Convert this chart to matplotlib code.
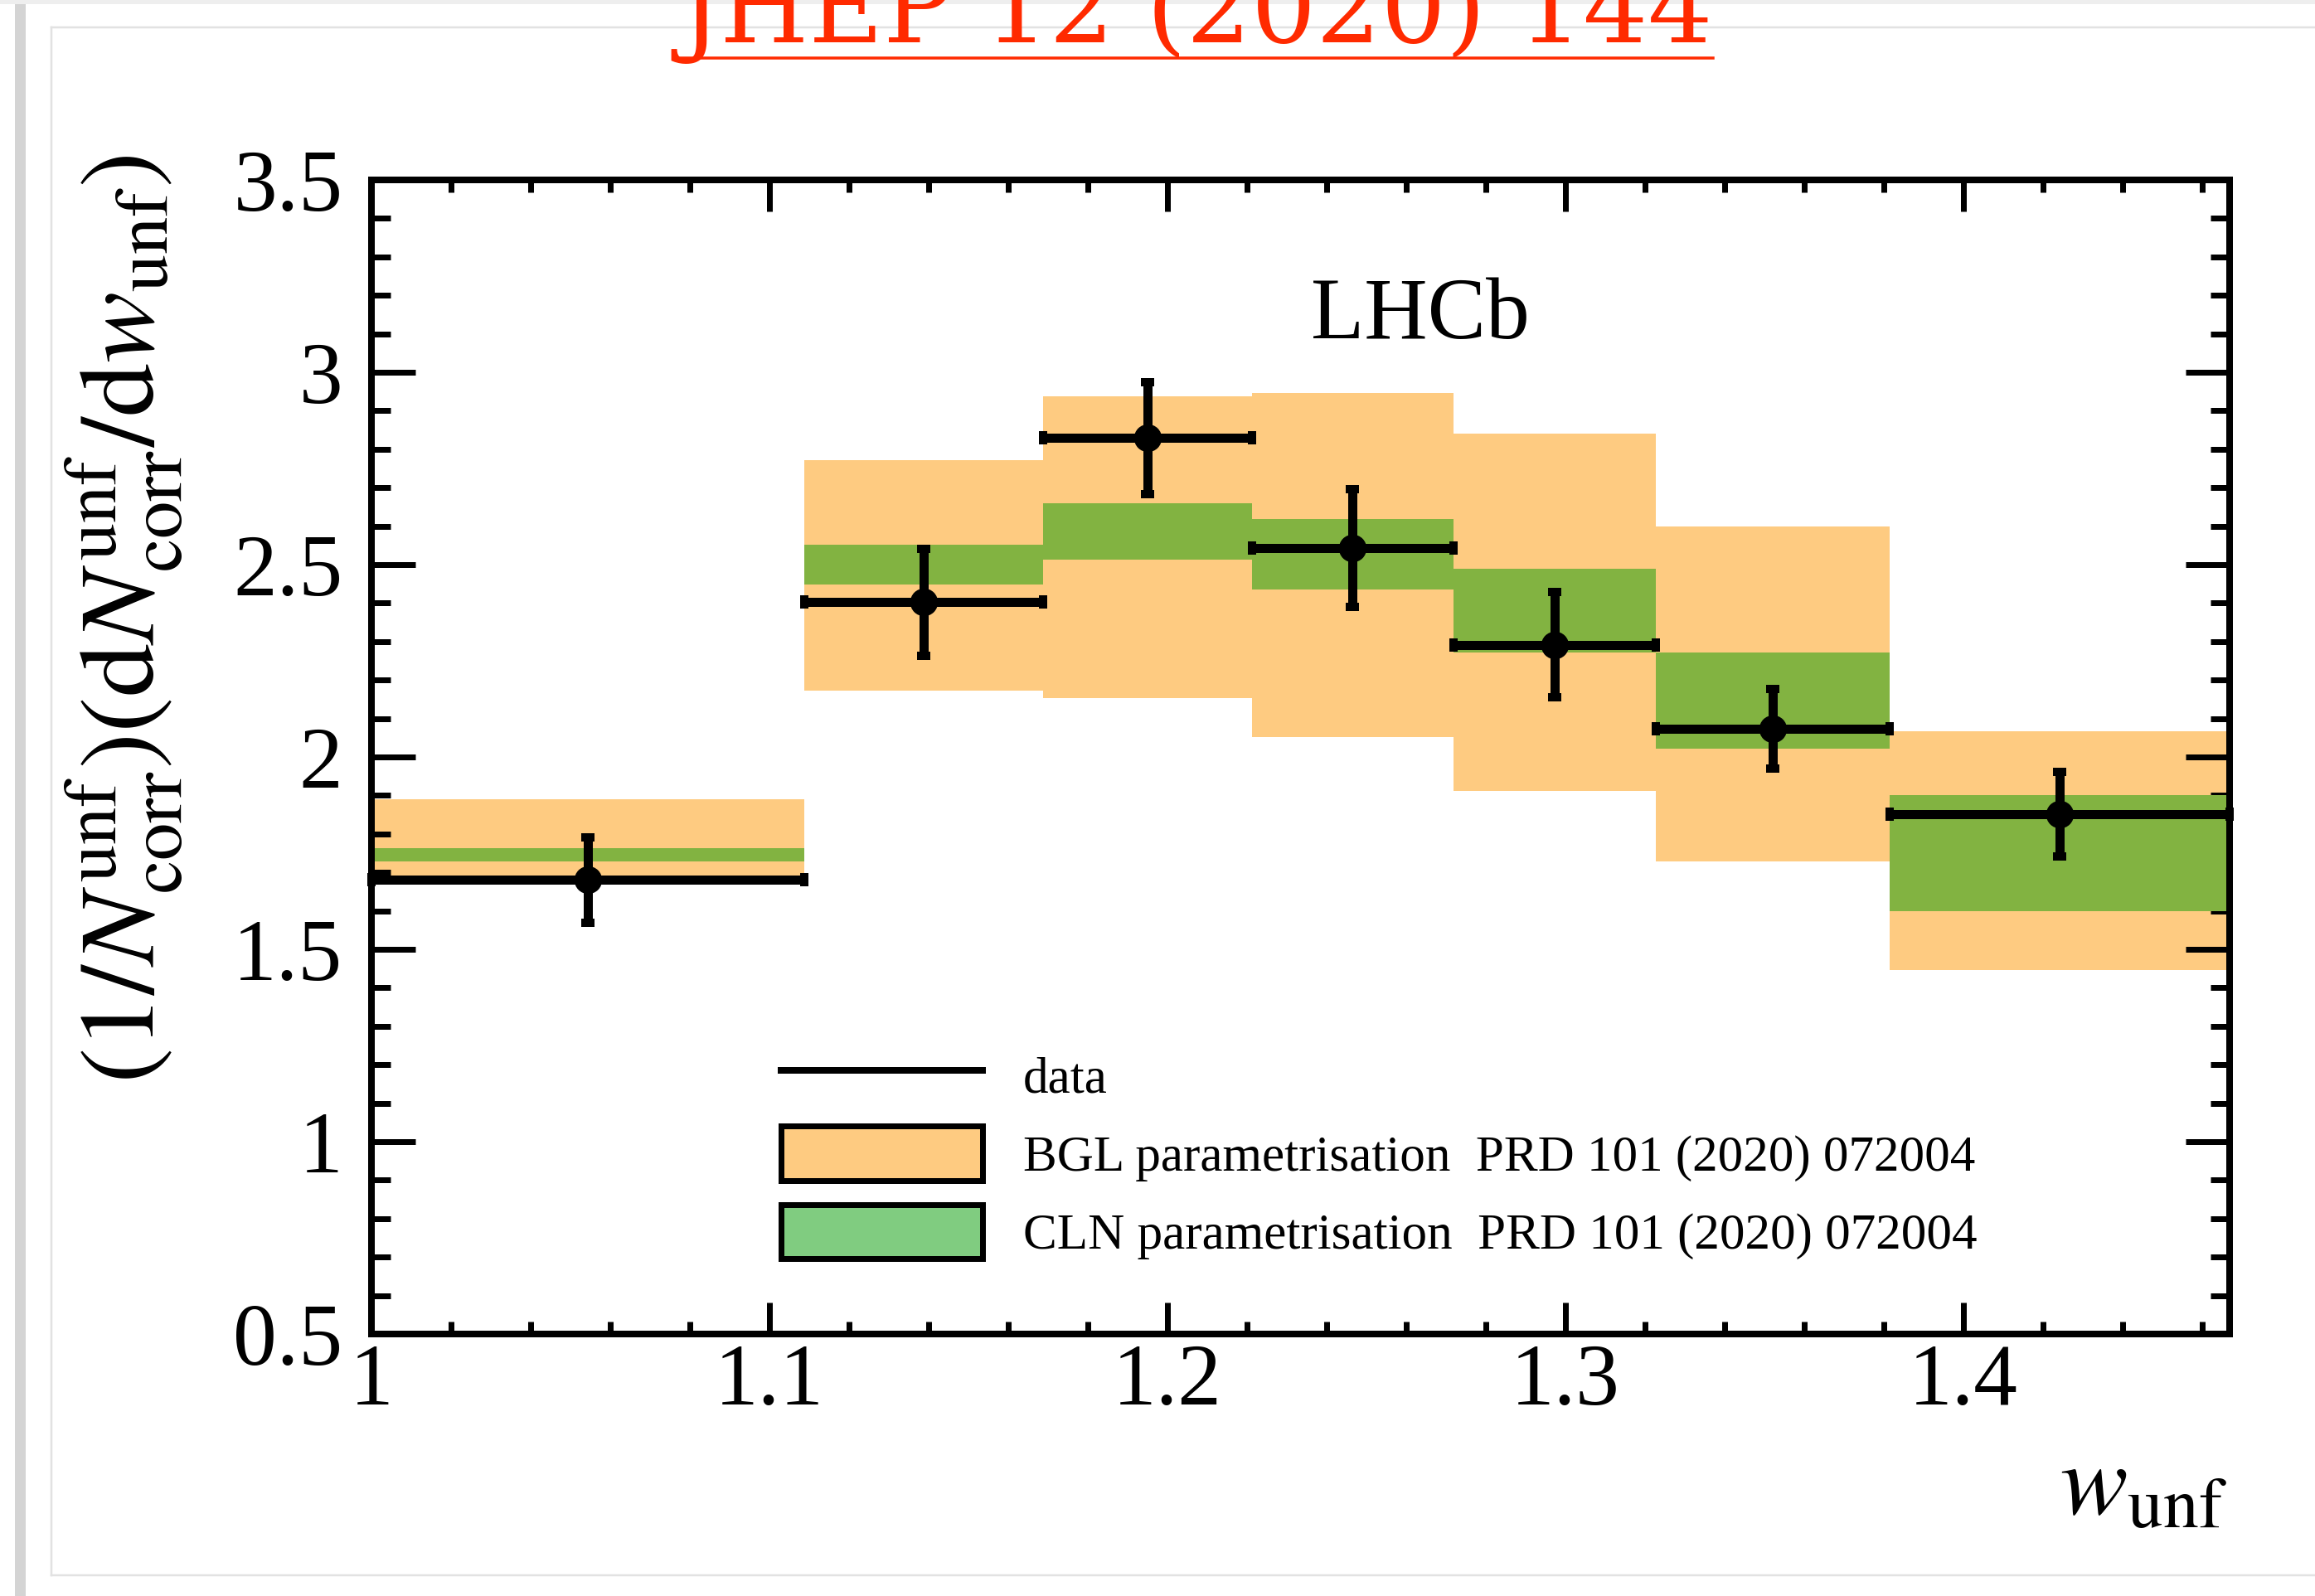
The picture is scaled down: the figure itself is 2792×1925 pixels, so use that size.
import matplotlib
matplotlib.use("Agg")
import matplotlib.pyplot as plt
from matplotlib.lines import Line2D
from matplotlib.patches import Patch, Rectangle
from matplotlib.ticker import MultipleLocator
import numpy as np

# bin edges in w_unf
edges = [1.0, 1.10875, 1.16875, 1.22125, 1.2718, 1.32271, 1.38146, 1.4669]

# unfolded data
data_y = [1.680, 2.402, 2.829, 2.544, 2.292, 2.073, 1.851]
data_err = [0.111, 0.140, 0.145, 0.153, 0.136, 0.104, 0.110]

# BGL band
bgl_lo = [1.692, 2.173, 2.152, 2.052, 1.912, 1.729, 1.447]
bgl_hi = [1.891, 2.772, 2.938, 2.947, 2.841, 2.599, 2.067]

# CLN band
cln_lo = [1.728, 2.448, 2.513, 2.436, 2.272, 2.022, 1.600]
cln_hi = [1.764, 2.552, 2.660, 2.619, 2.489, 2.272, 1.901]

W, H = 2792, 1925
DPI = 100
PX = 72.0 / DPI   # points per pixel

plt.rcParams['font.family'] = ['Liberation Serif', 'DejaVu Serif']
plt.rcParams['mathtext.fontset'] = 'stix'

fig = plt.figure(figsize=(W / DPI, H / DPI), dpi=DPI)
fig.patch.set_facecolor('white')


def fx(px):
    return px / W


def fy(py):
    return 1 - py / H


# page frame around the plot
fig.add_artist(Rectangle((fx(18), 0), fx(13), 1, transform=fig.transFigure,
                         facecolor='#d4d4d4', edgecolor='none'))
fig.add_artist(Rectangle((0, fy(5)), 1, fy(0) - fy(5), transform=fig.transFigure,
                         facecolor='#eeeeee', edgecolor='none'))
frame_kw = dict(transform=fig.transFigure, color='#e2e2e2', lw=2.5 * PX)
fig.add_artist(Line2D([fx(62), 1], [fy(33), fy(33)], **frame_kw))
fig.add_artist(Line2D([fx(62), fx(62)], [fy(33), fy(1900)], **frame_kw))
fig.add_artist(Line2D([fx(62), 1], [fy(1900), fy(1900)], **frame_kw))

ax = fig.add_axes([fx(448), fy(1609), fx(2689) - fx(448), fy(217) - fy(1609)])

edges = np.array(edges)
left = edges[:-1]
width = np.diff(edges)
centres = left + width / 2

orange = '#fecb81'
green = '#82b341'

ax.bar(left, np.array(bgl_hi) - np.array(bgl_lo), bottom=bgl_lo, width=width,
       align='edge', color=orange, edgecolor='none', zorder=1)
ax.bar(left, np.array(cln_hi) - np.array(cln_lo), bottom=cln_lo, width=width,
       align='edge', color=green, edgecolor='none', zorder=2)

eb = ax.errorbar(centres, data_y, xerr=width / 2, yerr=data_err, fmt='o',
                 color='black', ms=32 * PX, elinewidth=11 * PX,
                 capsize=8 * PX, capthick=10 * PX, zorder=5)
for art in eb.lines[1] + eb.lines[2]:
    art.set_clip_on(False)
eb.lines[0].set_clip_on(False)

ax.set_xlim(1.0, edges[-1])
ax.set_ylim(0.5, 3.5)

ax.xaxis.set_major_locator(MultipleLocator(0.1))
ax.xaxis.set_minor_locator(MultipleLocator(0.02))
ax.yaxis.set_major_locator(MultipleLocator(0.5))
ax.yaxis.set_minor_locator(MultipleLocator(0.1))
ax.set_xticks([1.0, 1.1, 1.2, 1.3, 1.4])
ax.set_xticklabels(['1', '1.1', '1.2', '1.3', '1.4'])
ax.set_yticks([0.5, 1.0, 1.5, 2.0, 2.5, 3.0, 3.5])
ax.set_yticklabels(['0.5', '1', '1.5', '2', '2.5', '3', '3.5'])

for s in ax.spines.values():
    s.set_linewidth(8 * PX)
    s.set_zorder(10)

ax.tick_params(axis='both', which='both', direction='in', top=True, right=True,
               width=7 * PX, labelsize=76, color='black')
ax.tick_params(axis='y', which='major', length=53 * PX, pad=25)
ax.tick_params(axis='y', which='minor', length=23 * PX)
ax.tick_params(axis='x', which='major', length=38 * PX, pad=8)
ax.tick_params(axis='x', which='minor', length=15 * PX)

# legend
handles = [
    Line2D([], [], color='black', lw=8 * PX),
    Patch(facecolor=orange, edgecolor='black', lw=7 * PX),
    Patch(facecolor='#80cc80', edgecolor='black', lw=7 * PX),
]
labels = ['data',
          'BGL parametrisation  PRD 101 (2020) 072004',
          'CLN parametrisation  PRD 101 (2020) 072004']
ax.legend(handles, labels, loc='upper left',
          bbox_to_anchor=((942 - 448) / 2241, (1609 - 1264) / 1392),
          frameon=False, fontsize=44, borderpad=0, borderaxespad=0,
          handlelength=3.97, handleheight=1.27, handletextpad=0.8,
          labelspacing=0.46)

ax.text((1581 - 448) / 2241, (1609 - 408) / 1392, 'LHCb', transform=ax.transAxes,
        fontsize=76, ha='left', va='baseline')

# axis titles
fig.text(fx(2686), fy(1827), r'$w_{\mathrm{unf}}$', fontsize=88,
         ha='right', va='baseline')
fig.text(fx(150), fy(187),
         r'$(1/N^{\mathrm{unf}}_{\mathrm{corr}})(\mathrm{d}N^{\mathrm{unf}}_{\mathrm{corr}}/\mathrm{d}w_{\mathrm{unf}})$',
         fontsize=93, rotation=90, ha='center', va='top')

# journal reference at the top, underlined; size set so it spans the underline
ref_left, ref_right = 819, 2066
ref = fig.text(fx((ref_left + ref_right) / 2), fy(51), 'JHEP 12 (2020) 144',
               fontsize=80, family='DejaVu Serif', color='#ff2a00',
               ha='center', va='baseline')
renderer = fig.canvas.get_renderer()
bb = ref.get_window_extent(renderer=renderer)
ref.set_fontsize(80 * (ref_right - ref_left) / bb.width)
fig.add_artist(Line2D([fx(ref_left), fx(ref_right)], [fy(70), fy(70)],
                      transform=fig.transFigure, color='#ff2a00', lw=3.5 * PX))

fig.savefig('out.png', dpi=DPI)
